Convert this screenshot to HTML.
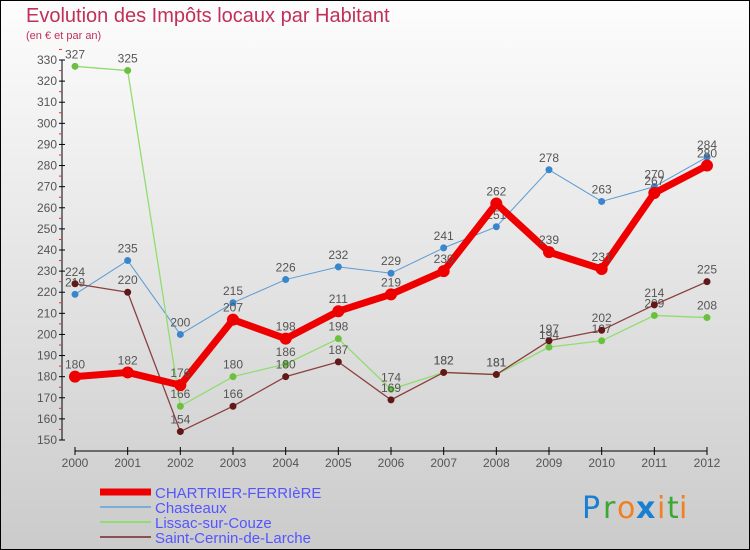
<!DOCTYPE html>
<html><head><meta charset="utf-8"><style>
html,body{margin:0;padding:0}
body{width:750px;height:550px;overflow:hidden;font-family:"Liberation Sans","DejaVu Sans",sans-serif}
</style></head><body>
<svg id="chart" width="750" height="550" xmlns="http://www.w3.org/2000/svg" style="display:block">
<defs><linearGradient id="bg" x1="0" y1="0" x2="0" y2="1"><stop offset="0" stop-color="#fdfdfd"/><stop offset="1" stop-color="#cbcbcb"/></linearGradient></defs>
<rect x="0.5" y="0.5" width="749" height="549" fill="url(#bg)" stroke="#000"/>
<text x="26" y="22" font-size="20" fill="#c0305a" font-family="'Liberation Sans',sans-serif">Evolution des Impôts locaux par Habitant</text>
<text x="26" y="39" font-size="11" fill="#c0305a">(en € et par an)</text>
<g id="axes"></g>
<g id="series"></g>
<g id="legend"></g>
<g font-size="30" font-family="'DejaVu Sans',sans-serif">
<text x="582" y="518" fill="#1a7fd0">P</text><text x="603" y="518" fill="#3aa832">r</text><text x="617" y="518" fill="#f08020">o</text><text x="636" y="518" fill="#1a7fd0" font-weight="bold">x</text><text x="657" y="518" fill="#f08020">i</text><text x="667" y="518" fill="#3aa832">t</text><text x="679" y="518" fill="#f08020">i</text>
</g>
</svg>
<script>
const years=[2000,2001,2002,2003,2004,2005,2006,2007,2008,2009,2010,2011,2012];
const chartrier=[180,182,176,207,198,211,219,230,262,239,231,267,280];
const chasteaux=[219,235,200,215,226,232,229,241,251,278,263,270,284];
const lissac=[327,325,166,180,186,198,174,182,181,194,197,209,208];
const cernin=[224,220,154,166,180,187,169,182,181,197,202,214,225];
const yTicks=[150,160,170,180,190,200,210,220,230,240,250,260,270,280,290,300,310,320,330];
const NS="http://www.w3.org/2000/svg";
const x=i=>75+i*(707-75)/(years.length-1);
const y=v=>440-(v-150)*(440-60)/180;
function mk(tag,attrs,parent){const e=document.createElementNS(NS,tag);for(const k in attrs)e.setAttribute(k,attrs[k]);parent.appendChild(e);return e;}
const ax=document.getElementById('axes');
const yl=mk('line',{x1:62,y1:60,x2:62,y2:440,stroke:'#000'},ax);


yTicks.forEach(v=>{
  mk('line',{x1:59,y1:y(v),x2:65,y2:y(v),stroke:'#000'},ax);
  mk('line',{x1:59,y1:y(v+5),x2:62,y2:y(v+5),stroke:'#e03030'},ax);
  const t=mk('text',{x:57,y:y(v)+4,'font-size':12,'text-anchor':'end',fill:'#555'},ax);
  
  
  t.textContent=v;
});
const xl=mk('line',{x1:75,y1:451,x2:707,y2:451,stroke:'#000'},ax);


years.forEach((yr,i)=>{
  mk('line',{x1:x(i),y1:447,x2:x(i),y2:455,stroke:'#000'},ax);
  const t=mk('text',{x:x(i),y:467,'font-size':12,'text-anchor':'middle',fill:'#555'},ax);
  
  
  t.textContent=yr;
});
const sg=document.getElementById('series');
const series=[
 {name:'chasteaux',d:chasteaux,c:'#5b9bd5',w:1,r:3.5,f:'#3a86cc'},
 {name:'lissac-sur-couze',d:lissac,c:'#90dd70',w:1.3,r:3.5,f:'#6cc040'},
 {name:'saint-cernin-de-larche',d:cernin,c:'#8b4040',w:1.3,r:3.5,f:'#601818'},
 {name:'chartrier-ferriere',d:chartrier,c:'#ee0000',w:7,r:6,f:'#ee0000'}
];
series.forEach(s=>{
  const g=mk('g',{},sg);
  
  
  mk('polyline',{points:s.d.map((v,i)=>x(i)+','+y(v)).join(' '),fill:'none',stroke:s.c,'stroke-width':s.w,'stroke-linejoin':'round'},g);
  s.d.forEach((v,i)=>{
    const c=mk('circle',{cx:x(i),cy:y(v),r:s.r,fill:s.f},g);
    
    
    const t=mk('text',{x:x(i),y:y(v)-8,'font-size':12,'text-anchor':'middle',fill:'#555'},g);
    
    
    t.textContent=v;
  });
});
const lg=document.getElementById('legend');
const leg=[['CHARTRIER-FERRIèRE','#ee0000',7],['Chasteaux','#7aaed8',2],['Lissac-sur-Couze','#90dd70',2],['Saint-Cernin-de-Larche','#8b5050',2]];
leg.forEach((l,i)=>{
  const yy=492+i*15;
  const g=mk('g',{},lg);
  
  
  mk('line',{x1:100,y1:yy,x2:151,y2:yy,stroke:l[1],'stroke-width':l[2]},g);
  const t=mk('text',{x:155,y:yy+6,'font-size':15,fill:'#5555ff'},g);
  t.textContent=l[0];
});
</script>
</body></html>
